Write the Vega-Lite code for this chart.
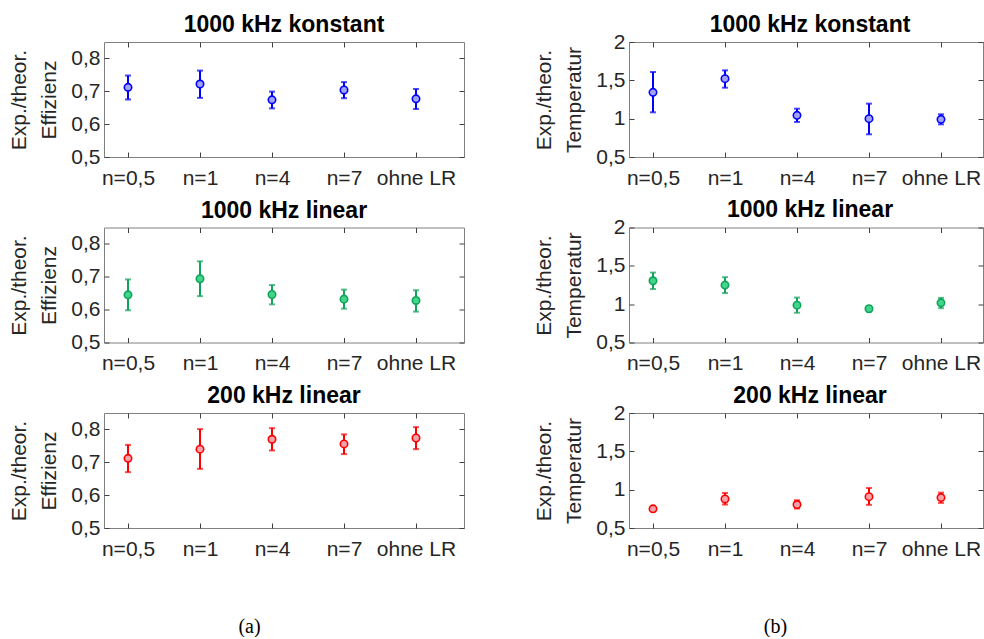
{
  "$schema": "https://vega.github.io/schema/vega-lite/v6.json",
  "padding": {"left": 7, "top": 13, "right": 0, "bottom": 0},
  "background": "white",
  "datasets": {
    "d": [
      {"p": "E1", "i": 1, "v": 0.712, "lo": 0.675, "hi": 0.748},
      {"p": "E1", "i": 2, "v": 0.722, "lo": 0.680, "hi": 0.763},
      {"p": "E1", "i": 3, "v": 0.674, "lo": 0.648, "hi": 0.699},
      {"p": "E1", "i": 4, "v": 0.704, "lo": 0.679, "hi": 0.728},
      {"p": "E1", "i": 5, "v": 0.677, "lo": 0.646, "hi": 0.707},
      {"p": "E2", "i": 1, "v": 0.645, "lo": 0.598, "hi": 0.692},
      {"p": "E2", "i": 2, "v": 0.694, "lo": 0.641, "hi": 0.747},
      {"p": "E2", "i": 3, "v": 0.646, "lo": 0.616, "hi": 0.675},
      {"p": "E2", "i": 4, "v": 0.632, "lo": 0.603, "hi": 0.661},
      {"p": "E2", "i": 5, "v": 0.628, "lo": 0.594, "hi": 0.659},
      {"p": "E3", "i": 1, "v": 0.712, "lo": 0.670, "hi": 0.753},
      {"p": "E3", "i": 2, "v": 0.740, "lo": 0.680, "hi": 0.801},
      {"p": "E3", "i": 3, "v": 0.770, "lo": 0.736, "hi": 0.804},
      {"p": "E3", "i": 4, "v": 0.756, "lo": 0.725, "hi": 0.785},
      {"p": "E3", "i": 5, "v": 0.774, "lo": 0.740, "hi": 0.807},
      {"p": "T1", "i": 1, "v": 1.343, "lo": 1.083, "hi": 1.609},
      {"p": "T1", "i": 2, "v": 1.522, "lo": 1.404, "hi": 1.630},
      {"p": "T1", "i": 3, "v": 1.043, "lo": 0.957, "hi": 1.130},
      {"p": "T1", "i": 4, "v": 1.000, "lo": 0.796, "hi": 1.196},
      {"p": "T1", "i": 5, "v": 0.991, "lo": 0.926, "hi": 1.057},
      {"p": "T2", "i": 1, "v": 1.305, "lo": 1.197, "hi": 1.412},
      {"p": "T2", "i": 2, "v": 1.249, "lo": 1.146, "hi": 1.352},
      {"p": "T2", "i": 3, "v": 0.987, "lo": 0.888, "hi": 1.086},
      {"p": "T2", "i": 4, "v": 0.940, "lo": 0.905, "hi": 0.975},
      {"p": "T2", "i": 5, "v": 1.017, "lo": 0.948, "hi": 1.082},
      {"p": "T3", "i": 1, "v": 0.750, "lo": 0.720, "hi": 0.780},
      {"p": "T3", "i": 2, "v": 0.879, "lo": 0.806, "hi": 0.957},
      {"p": "T3", "i": 3, "v": 0.806, "lo": 0.754, "hi": 0.862},
      {"p": "T3", "i": 4, "v": 0.909, "lo": 0.802, "hi": 1.022},
      {"p": "T3", "i": 5, "v": 0.897, "lo": 0.828, "hi": 0.961}
    ]
  },
  "data": {"name": "d"},
  "bounds": "flush",
  "spacing": 525,
  "hconcat": [
    {
      "bounds": "flush",
      "spacing": 70.5,
      "vconcat": [
        {
          "width": 360, "height": 115,
          "title": {"text": "1000 kHz konstant", "offset": 4.5},
          "transform": [{"filter": "datum.p === 'E1'"}],
          "layer": [
            {
              "mark": {"type": "errorbar", "ticks": true, "size": 6, "thickness": 2, "color": "#0000FF"},
              "encoding": {
                "x": {"field": "i", "type": "quantitative", "scale": {"domain": [0.6667, 5.6667], "nice": false, "zero": false},
                      "axis": {"orient": "bottom", "values": [1, 2, 3, 4, 5], "title": null, "labelExpr": "['n=0,5','n=1','n=4','n=7','ohne LR'][datum.value-1]"}},
                "y": {"field": "lo", "type": "quantitative", "scale": {"domain": [0.5, 0.85], "nice": false, "zero": false},
                      "axis": {"orient": "left", "values": [0.5, 0.6, 0.7, 0.8], "labelExpr": "replace(format(datum.value,'.1f'),'.',',')", "title": ["Exp./theor.", "Effizienz"]}},
                "y2": {"field": "hi"}
              }
            },
            {
              "mark": {"type": "point", "filled": true, "fill": "#A3A3F5", "stroke": "#0000FF", "strokeWidth": 1.6, "size": 55, "opacity": 1},
              "encoding": {
                "x": {"field": "i", "type": "quantitative", "axis": {"orient": "top", "values": [1, 2, 3, 4, 5], "labels": false, "title": null}},
                "y": {"field": "v", "type": "quantitative", "axis": {"orient": "right", "values": [0.5, 0.6, 0.7, 0.8], "labels": false, "title": null}}
              }
            }
          ],
          "resolve": {"axis": {"x": "independent", "y": "independent"}}
        },
        {
          "width": 360, "height": 115,
          "title": {"text": "1000 kHz linear", "offset": 4.5},
          "transform": [{"filter": "datum.p === 'E2'"}],
          "layer": [
            {
              "mark": {"type": "errorbar", "ticks": true, "size": 6, "thickness": 2, "color": "#12A35A"},
              "encoding": {
                "x": {"field": "i", "type": "quantitative", "scale": {"domain": [0.6667, 5.6667], "nice": false, "zero": false},
                      "axis": {"orient": "bottom", "values": [1, 2, 3, 4, 5], "title": null, "labelExpr": "['n=0,5','n=1','n=4','n=7','ohne LR'][datum.value-1]"}},
                "y": {"field": "lo", "type": "quantitative", "scale": {"domain": [0.5, 0.85], "nice": false, "zero": false},
                      "axis": {"orient": "left", "values": [0.5, 0.6, 0.7, 0.8], "labelExpr": "replace(format(datum.value,'.1f'),'.',',')", "title": ["Exp./theor.", "Effizienz"]}},
                "y2": {"field": "hi"}
              }
            },
            {
              "mark": {"type": "point", "filled": true, "fill": "#42D68A", "stroke": "#12A35A", "strokeWidth": 1.6, "size": 55, "opacity": 1},
              "encoding": {
                "x": {"field": "i", "type": "quantitative", "axis": {"orient": "top", "values": [1, 2, 3, 4, 5], "labels": false, "title": null}},
                "y": {"field": "v", "type": "quantitative", "axis": {"orient": "right", "values": [0.5, 0.6, 0.7, 0.8], "labels": false, "title": null}}
              }
            }
          ],
          "resolve": {"axis": {"x": "independent", "y": "independent"}}
        },
        {
          "width": 360, "height": 115,
          "title": {"text": "200 kHz linear", "offset": 4.5},
          "transform": [{"filter": "datum.p === 'E3'"}],
          "layer": [
            {
              "mark": {"type": "errorbar", "ticks": true, "size": 6, "thickness": 2, "color": "#FF0000"},
              "encoding": {
                "x": {"field": "i", "type": "quantitative", "scale": {"domain": [0.6667, 5.6667], "nice": false, "zero": false},
                      "axis": {"orient": "bottom", "values": [1, 2, 3, 4, 5], "labelExpr": "['n=0,5','n=1','n=4','n=7','ohne LR'][datum.value-1]",
                               "title": "(a)", "titleFont": "Liberation Serif", "titleFontSize": 20, "titleColor": "black", "titleX": 145, "titleY": 104, "titleBaseline": "alphabetic", "titleAlign": "center", "titleAnchor": null}},
                "y": {"field": "lo", "type": "quantitative", "scale": {"domain": [0.5, 0.85], "nice": false, "zero": false},
                      "axis": {"orient": "left", "values": [0.5, 0.6, 0.7, 0.8], "labelExpr": "replace(format(datum.value,'.1f'),'.',',')", "title": ["Exp./theor.", "Effizienz"]}},
                "y2": {"field": "hi"}
              }
            },
            {
              "mark": {"type": "point", "filled": true, "fill": "#F5A3AB", "stroke": "#FF0000", "strokeWidth": 1.6, "size": 55, "opacity": 1},
              "encoding": {
                "x": {"field": "i", "type": "quantitative", "axis": {"orient": "top", "values": [1, 2, 3, 4, 5], "labels": false, "title": null}},
                "y": {"field": "v", "type": "quantitative", "axis": {"orient": "right", "values": [0.5, 0.6, 0.7, 0.8], "labels": false, "title": null}}
              }
            }
          ],
          "resolve": {"axis": {"x": "independent", "y": "independent"}}
        }
      ]
    },
    {
      "bounds": "flush",
      "spacing": 70.5,
      "vconcat": [
        {
          "width": 354, "height": 115,
          "title": {"text": "1000 kHz konstant", "dx": 4, "offset": -5.5},
          "transform": [{"filter": "datum.p === 'T1'"}],
          "layer": [
            {
              "mark": {"type": "errorbar", "ticks": true, "size": 6, "thickness": 2, "color": "#0000FF"},
              "encoding": {
                "x": {"field": "i", "type": "quantitative", "scale": {"domain": [0.6667, 5.5834], "nice": false, "zero": false},
                      "axis": {"orient": "bottom", "values": [1, 2, 3, 4, 5], "title": null, "labelExpr": "['n=0,5','n=1','n=4','n=7','ohne LR'][datum.value-1]"}},
                "y": {"field": "lo", "type": "quantitative", "scale": {"domain": [0.5, 2], "nice": false, "zero": false},
                      "axis": {"orient": "left", "values": [0.5, 1, 1.5, 2], "labelExpr": "replace(toString(datum.value),'.',',')", "title": ["Exp./theor.", "Temperatur"]}},
                "y2": {"field": "hi"}
              }
            },
            {
              "mark": {"type": "point", "filled": true, "fill": "#A3A3F5", "stroke": "#0000FF", "strokeWidth": 1.6, "size": 55, "opacity": 1},
              "encoding": {
                "x": {"field": "i", "type": "quantitative", "axis": {"orient": "top", "values": [1, 2, 3, 4, 5], "labels": false, "title": null}},
                "y": {"field": "v", "type": "quantitative", "axis": {"orient": "right", "values": [0.5, 1, 1.5, 2], "labels": false, "title": null}}
              }
            }
          ],
          "resolve": {"axis": {"x": "independent", "y": "independent"}}
        },
        {
          "width": 354, "height": 115,
          "title": {"text": "1000 kHz linear", "dx": 4, "offset": -5.5},
          "transform": [{"filter": "datum.p === 'T2'"}],
          "layer": [
            {
              "mark": {"type": "errorbar", "ticks": true, "size": 6, "thickness": 2, "color": "#12A35A"},
              "encoding": {
                "x": {"field": "i", "type": "quantitative", "scale": {"domain": [0.6667, 5.5834], "nice": false, "zero": false},
                      "axis": {"orient": "bottom", "values": [1, 2, 3, 4, 5], "title": null, "labelExpr": "['n=0,5','n=1','n=4','n=7','ohne LR'][datum.value-1]"}},
                "y": {"field": "lo", "type": "quantitative", "scale": {"domain": [0.5, 2], "nice": false, "zero": false},
                      "axis": {"orient": "left", "values": [0.5, 1, 1.5, 2], "labelExpr": "replace(toString(datum.value),'.',',')", "title": ["Exp./theor.", "Temperatur"]}},
                "y2": {"field": "hi"}
              }
            },
            {
              "mark": {"type": "point", "filled": true, "fill": "#42D68A", "stroke": "#12A35A", "strokeWidth": 1.6, "size": 55, "opacity": 1},
              "encoding": {
                "x": {"field": "i", "type": "quantitative", "axis": {"orient": "top", "values": [1, 2, 3, 4, 5], "labels": false, "title": null}},
                "y": {"field": "v", "type": "quantitative", "axis": {"orient": "right", "values": [0.5, 1, 1.5, 2], "labels": false, "title": null}}
              }
            }
          ],
          "resolve": {"axis": {"x": "independent", "y": "independent"}}
        },
        {
          "width": 354, "height": 115,
          "title": {"text": "200 kHz linear", "dx": 4, "offset": -5.5},
          "transform": [{"filter": "datum.p === 'T3'"}],
          "layer": [
            {
              "mark": {"type": "errorbar", "ticks": true, "size": 6, "thickness": 2, "color": "#FF0000"},
              "encoding": {
                "x": {"field": "i", "type": "quantitative", "scale": {"domain": [0.6667, 5.5834], "nice": false, "zero": false},
                      "axis": {"orient": "bottom", "values": [1, 2, 3, 4, 5], "labelExpr": "['n=0,5','n=1','n=4','n=7','ohne LR'][datum.value-1]",
                               "title": "(b)", "titleFont": "Liberation Serif", "titleFontSize": 20, "titleColor": "black", "titleX": 146, "titleY": 104, "titleBaseline": "alphabetic", "titleAlign": "center", "titleAnchor": null}},
                "y": {"field": "lo", "type": "quantitative", "scale": {"domain": [0.5, 2], "nice": false, "zero": false},
                      "axis": {"orient": "left", "values": [0.5, 1, 1.5, 2], "labelExpr": "replace(toString(datum.value),'.',',')", "title": ["Exp./theor.", "Temperatur"]}},
                "y2": {"field": "hi"}
              }
            },
            {
              "mark": {"type": "point", "filled": true, "fill": "#F5A3AB", "stroke": "#FF0000", "strokeWidth": 1.6, "size": 55, "opacity": 1},
              "encoding": {
                "x": {"field": "i", "type": "quantitative", "axis": {"orient": "top", "values": [1, 2, 3, 4, 5], "labels": false, "title": null}},
                "y": {"field": "v", "type": "quantitative", "axis": {"orient": "right", "values": [0.5, 1, 1.5, 2], "labels": false, "title": null}}
              }
            }
          ],
          "resolve": {"axis": {"x": "independent", "y": "independent"}}
        }
      ]
    }
  ],
  "config": {
    "view": {"stroke": "#808080", "strokeWidth": 1},
    "axis": {
      "domain": false, "grid": false,
      "tickSize": -5, "tickColor": "#404040", "tickWidth": 1,
      "labelFont": "Liberation Sans", "labelFontSize": 21, "labelColor": "#262626", "labelPadding": 9,
      "titleFont": "Liberation Sans", "titleFontSize": 21, "titleFontWeight": "normal", "titleColor": "#262626",
      "titleLineHeight": 30, "titlePadding": 11.5
    },
    "axisBottom": {"labelPadding": 15},
    "title": {"font": "Liberation Sans", "fontSize": 23, "fontWeight": "bold", "color": "black", "baseline": "alphabetic"}
  }
}
